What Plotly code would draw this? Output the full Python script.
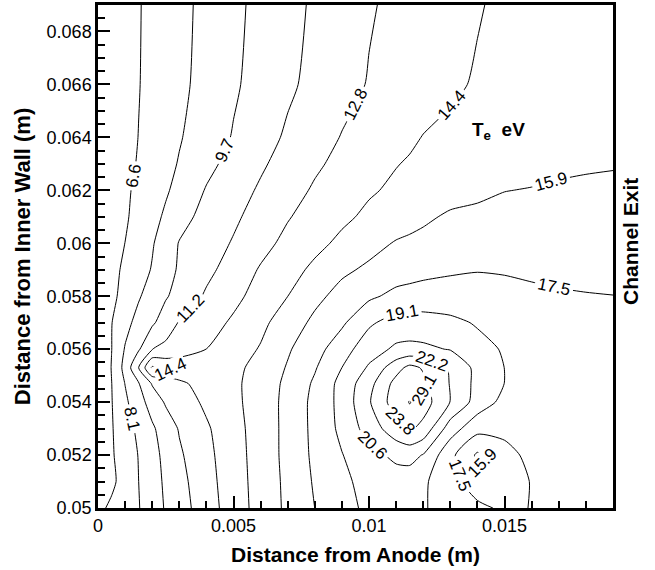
import plotly.graph_objects as go

# grid coordinates (m)
x_m = [0.0, 0.0005, 0.001, 0.0015, 0.002, 0.0025, 0.003, 0.004, 0.005, 0.006, 0.007, 0.008,
       0.009, 0.010, 0.011, 0.0115, 0.012, 0.013, 0.014, 0.015, 0.016, 0.017, 0.018, 0.019]
y_m = [0.050, 0.051, 0.052, 0.053, 0.054, 0.0547, 0.0553, 0.056, 0.057, 0.058, 0.059,
       0.060, 0.061, 0.062, 0.063, 0.064, 0.066, 0.069]

# electron temperature Te (eV), one row per y value
te_y0500 = [6.21, 6.82, 7.44, 8.05, 8.94, 9.82, 10.57, 12.1, 13.59, 14.96, 16.24, 17.51, 18.54, 19.4, 19.6, 19.6, 19.2, 18.4, 17.9, 17.2, 17.55, 17.9, 18.1, 18.2]
te_y0510 = [5.4, 6.25, 7.17, 8.12, 9.04, 9.94, 10.76, 12.25, 13.67, 15.0, 16.29, 17.67, 18.73, 19.6, 19.9, 19.9, 19.28, 18.17, 16.5, 17.0, 17.55, 17.9, 18.1, 18.2]
te_y0520 = [5.49, 6.39, 7.28, 8.18, 9.15, 10.11, 11.03, 12.4, 13.75, 15.04, 16.37, 17.82, 19.01, 20.1, 21.0, 21.1, 20.55, 17.91, 15.7, 17.0, 17.9, 18.2, 18.3, 18.3]
te_y0530 = [5.42, 6.44, 7.45, 8.46, 9.45, 10.45, 11.36, 12.61, 13.85, 15.06, 16.37, 17.9, 19.43, 21.29, 23.16, 24.0, 23.29, 19.81, 18.0, 17.9, 18.1, 18.3, 18.4, 18.4]
te_y0540 = [5.15, 6.49, 7.83, 9.07, 10.35, 11.42, 12.01, 13.1, 14.02, 15.09, 16.37, 17.92, 19.55, 22.04, 24.6, 29.5, 24.5, 22.15, 19.97, 18.6, 18.4, 18.4, 18.5, 18.5]
te_y0547 = [4.9, 6.53, 8.16, 9.59, 11.37, 11.96, 12.54, 13.36, 14.08, 15.04, 16.28, 17.73, 19.56, 21.66, 24.3, 25.5, 24.1, 22.1, 20.16, 19.05, 18.5, 18.4, 18.3, 18.2]
te_y0553 = [4.77, 6.62, 8.6, 11.25, 14.6, 14.0, 13.8, 13.7, 14.0, 14.88, 16.06, 17.37, 19.07, 20.83, 23.16, 24.2, 23.6, 22.0, 20.17, 19.05, 18.5, 18.3, 18.1, 18.0]
te_y0560 = [4.79, 6.53, 8.23, 9.52, 11.22, 11.62, 12.02, 12.82, 13.64, 14.49, 15.77, 16.9, 18.41, 19.95, 20.9, 21.0, 20.9, 20.55, 19.64, 18.9, 18.5, 18.3, 18.1, 18.0]
te_y0570 = [5.35, 6.51, 7.66, 8.61, 9.44, 10.47, 11.35, 12.18, 13.04, 14.01, 15.14, 16.27, 17.25, 18.83, 19.7, 19.8, 19.8, 19.5, 18.9, 18.6, 18.3, 18.1, 17.9, 17.8]
te_y0580 = [5.3, 6.19, 7.08, 7.98, 8.77, 9.54, 10.23, 11.46, 12.42, 13.39, 14.37, 15.55, 16.45, 17.23, 17.9, 18.0, 18.0, 17.95, 17.9, 17.85, 17.75, 17.7, 17.6, 17.53]
te_y0590 = [5.44, 6.13, 6.82, 7.51, 8.22, 9.11, 9.87, 10.86, 11.91, 12.95, 13.81, 14.69, 15.66, 16.2, 16.76, 16.95, 17.17, 17.37, 17.46, 17.41, 17.29, 17.05, 16.95, 16.9]
te_y0600 = [5.21, 5.9, 6.57, 7.3, 7.99, 8.89, 9.76, 10.55, 11.37, 12.33, 13.2, 13.97, 14.7, 15.45, 16.05, 16.2, 16.35, 16.5, 16.6, 16.65, 16.65, 16.6, 16.55, 16.5]
te_y0610 = [5.1, 5.74, 6.38, 7.02, 7.66, 8.35, 9.12, 10.2, 10.99, 11.84, 12.71, 13.41, 14.08, 14.67, 15.18, 15.43, 15.68, 16.15, 16.3, 16.4, 16.45, 16.5, 16.5, 16.5]
te_y0620 = [5.23, 5.77, 6.32, 6.86, 7.41, 7.95, 8.56, 9.79, 10.62, 11.44, 12.24, 12.99, 13.6, 14.21, 14.63, 14.79, 14.95, 15.35, 15.6, 15.91, 16.0, 16.1, 16.15, 16.2]
te_y0630 = [5.13, 5.64, 6.16, 6.67, 7.19, 7.7, 8.22, 9.27, 10.2, 11.04, 11.82, 12.58, 13.2, 13.76, 14.32, 14.5, 14.65, 14.95, 15.2, 15.4, 15.5, 15.7, 15.8, 15.85]
te_y0640 = [5.19, 5.66, 6.13, 6.58, 7.07, 7.54, 8.01, 8.9, 9.79, 10.65, 11.47, 12.19, 12.88, 13.39, 13.9, 14.16, 14.42, 14.7, 14.9, 15.05, 15.15, 15.25, 15.3, 15.35]
te_y0660 = [5.23, 5.66, 6.08, 6.51, 6.93, 7.36, 7.78, 8.63, 9.48, 10.25, 10.99, 11.66, 12.31, 12.9, 13.31, 13.51, 13.72, 14.13, 14.52, 14.75, 14.9, 15.0, 15.05, 15.1]
te_y0690 = [5.26, 5.66, 6.07, 6.48, 6.89, 7.29, 7.7, 8.52, 9.34, 10.09, 10.79, 11.46, 12.07, 12.68, 13.11, 13.3, 13.5, 13.88, 14.27, 14.66, 14.85, 15.0, 15.1, 15.15]

te_grid = [te_y0500, te_y0510, te_y0520, te_y0530, te_y0540, te_y0547, te_y0553, te_y0560,
           te_y0570, te_y0580, te_y0590, te_y0600, te_y0610, te_y0620, te_y0630, te_y0640,
           te_y0660, te_y0690]

# contour levels
level_start = 6.557
level_step = 1.5636
level_end = 23.76
peak_level = 29.1

# labels of the small closed contours (text, position, angle)
small_loop_labels = ["14.4", "29.1", "15.9"]
small_loop_x = [0.00268, 0.01205, 0.01420]
small_loop_y = [0.05522, 0.05446, 0.05170]
small_loop_angle = [-25, -60, -45]

x_tickvals = [0, 0.005, 0.01, 0.015]
x_ticktext = ["0", "0.005", "0.01", "0.015"]
y_tickvals = [0.050, 0.052, 0.054, 0.056, 0.058, 0.060, 0.062, 0.064, 0.066, 0.068]
y_ticktext = ["0.05", "0.052", "0.054", "0.056", "0.058", "0.06", "0.062", "0.064", "0.066", "0.068"]

FONT = "Liberation Sans, Arial, Helvetica, sans-serif"

fig = go.Figure()
fig.add_trace(go.Contour(
    x=x_m, y=y_m, z=te_grid,
    contours=dict(coloring="none", showlabels=True, start=level_start, end=level_end,
                  size=level_step, labelformat=".1f",
                  labelfont=dict(family=FONT, size=17, color="black")),
    line=dict(color="black", width=1, smoothing=0.6),
    showscale=False, hoverinfo="skip",
))
fig.add_trace(go.Contour(
    x=x_m, y=y_m, z=te_grid,
    contours=dict(coloring="none", showlabels=True, start=peak_level, end=peak_level + 0.05,
                  size=1, labelformat=".1f",
                  labelfont=dict(family=FONT, size=17, color="black")),
    line=dict(color="black", width=1, smoothing=0.6),
    showscale=False, hoverinfo="skip",
))

axis_common = dict(showgrid=False, zeroline=False, showline=True, linecolor="black",
                   linewidth=2.5, mirror=True, ticks="inside", ticklen=12, tickwidth=2,
                   tickcolor="black", automargin=False,
                   tickfont=dict(family=FONT, size=18, color="black"))

annotations = [
    dict(text="<b>Channel Exit</b>", xref="paper", yref="paper", x=1.035, y=0.529,
         xanchor="center", yanchor="middle",
         textangle=-90, showarrow=False, font=dict(family=FONT, size=21, color="black")),
    dict(text="<b>T<sub>e</sub>  eV</b>", xref="x", yref="y", x=0.01478, y=0.06425,
         xanchor="center", yanchor="middle",
         showarrow=False, font=dict(family=FONT, size=19, color="black")),
]
for t, lx, ly, ang in zip(small_loop_labels, small_loop_x, small_loop_y, small_loop_angle):
    annotations.append(dict(text=t, xref="x", yref="y", x=lx, y=ly, textangle=ang,
                            xanchor="center", yanchor="middle", showarrow=False,
                            bgcolor="white", borderpad=0,
                            font=dict(family=FONT, size=17, color="black")))

fig.update_layout(
    width=655, height=570,
    margin=dict(l=98, r=42, t=5, b=62),
    paper_bgcolor="white", plot_bgcolor="white",
    showlegend=False,
    font=dict(family=FONT, color="black"),
    xaxis=dict(range=[0, 0.019], tickvals=x_tickvals, ticktext=x_ticktext,
               minor=dict(dtick=0.001, ticks="inside", ticklen=7, tickwidth=1.5, tickcolor="black"),
               title=dict(text="<b>Distance from Anode (m)</b>", standoff=12,
                          font=dict(family=FONT, size=21, color="black")),
               **axis_common),
    yaxis=dict(range=[0.05, 0.069], tickvals=y_tickvals, ticktext=y_ticktext,
               minor=dict(dtick=0.0005, ticks="inside", ticklen=7, tickwidth=1.5, tickcolor="black"),
               title=dict(text="<b>Distance from Inner Wall (m)</b>", standoff=10,
                          font=dict(family=FONT, size=22, color="black")),
               **axis_common),
    annotations=annotations,
)

fig.write_html("out.html", config={"displayModeBar": False},
               post_script="document.body.style.margin='0';document.body.style.padding='0';")
